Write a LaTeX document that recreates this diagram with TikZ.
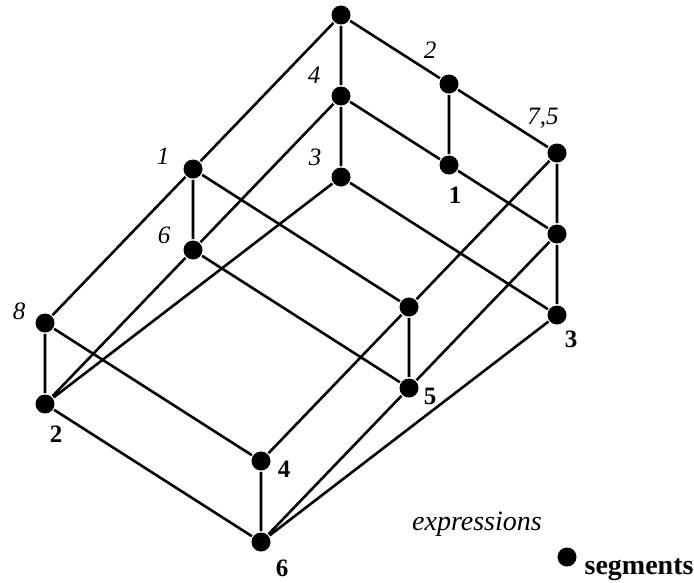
\documentclass[tikz,border=0pt]{standalone}
\usepackage{fontspec}
\setmainfont{Liberation Serif}
\tikzset{dot/.style={circle,fill=black,inner sep=0pt,minimum size=19pt},
  expr/.style={font=\fontsize{25}{25}\selectfont\itshape},
  segm/.style={font=\fontsize{25}{25}\selectfont\bfseries}}

\begin{document}
\begin{tikzpicture}[x=1pt,y=-1pt,line width=2.6pt]
\useasboundingbox (0,0) rectangle (694,582);
\node[dot] (top) at (341,15) {};
\node[dot] (e2) at (449,84) {};
\node[dot] (e75) at (557,153) {};
\node[dot] (e4) at (341,96) {};
\node[dot] (s1) at (449,165) {};
\node[dot] (e3) at (341,177) {};
\node[dot] (rmid) at (557,234) {};
\node[dot] (s3) at (557,315) {};
\node[dot] (e1) at (193,169) {};
\node[dot] (e6) at (193,250) {};
\node[dot] (fmid) at (409,307) {};
\node[dot] (s5) at (409,388) {};
\node[dot] (e8) at (45,323) {};
\node[dot] (s2) at (45,404) {};
\node[dot] (s4) at (261,461) {};
\node[dot] (s6) at (261,542) {};
\draw (e1) -- (top) -- (e2) -- (e75) -- (rmid) -- (s3) -- (s6);
\draw (top) -- (e4) -- (e3) -- (s3);
\draw (e2) -- (s1) -- (rmid) -- (s5) -- (s6);
\draw (e4) -- (s1);
\draw (e4) -- (e6) -- (s5);
\draw (e75) -- (fmid) -- (s4) -- (s6);
\draw (e1) -- (e6) -- (s2);
\draw (e1) -- (e8) -- (s2) -- (s6);
\draw (e1) -- (fmid) -- (s5);
\draw (e3) -- (s2);
\draw (e8) -- (s4);
% expressions
\node[expr] (l2) at (430,50) {2};
\node[expr] (l4) at (314,75) {4};
\node[expr] (l75) at (543,118) {7,5};
\node[expr] (l3) at (315,157) {3};
\node[expr] (l1) at (163,156) {1};
\node[expr] (l6) at (164,235) {6};
\node[expr] (l8) at (19,311) {8};
% segments
\node[segm] (b1) at (455,195) {1};
\node[segm] (b3) at (571,339) {3};
\node[segm] (b5) at (430,396) {5};
\node[segm] (b4) at (284,469) {4};
\node[segm] (b6) at (282,568) {6};
\node[segm] (b2) at (56,434) {2};
% legend
\node[expr,font=\fontsize{28}{28}\selectfont\itshape] (lexpr) at (477,524) {expressions};
\node[dot] (ldot) at (567,557) {};
\node[segm,font=\fontsize{28}{28}\selectfont\bfseries,anchor=base west] (lsegm) at (580,574) {segments};
\end{tikzpicture}
\end{document}
